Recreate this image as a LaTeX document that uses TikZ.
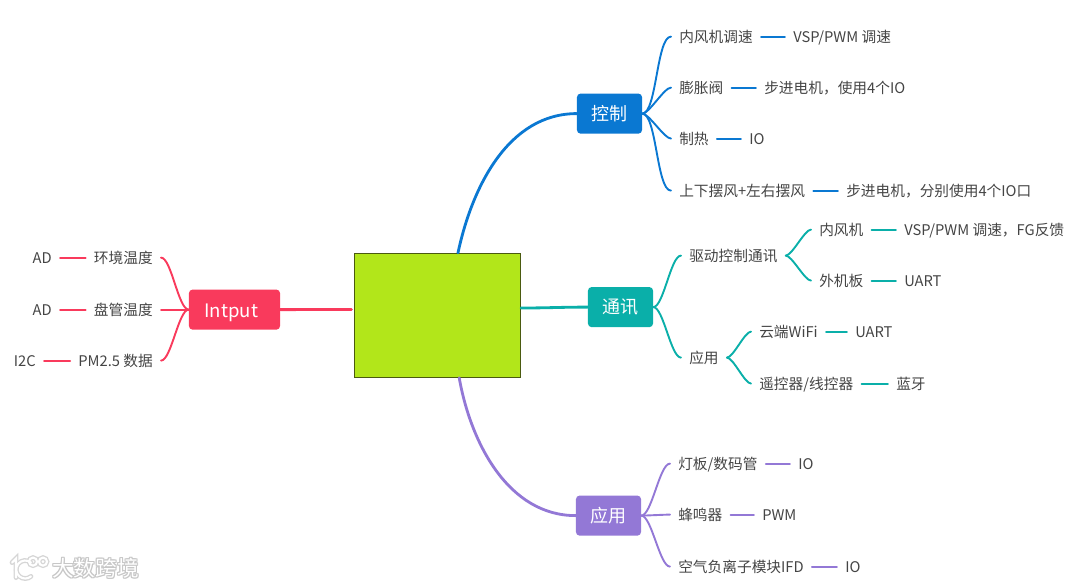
\documentclass[tikz,border=0pt]{standalone}
\usepackage{fontspec}
\setmainfont{Noto Sans CJK SC}
\usetikzlibrary{calc}
\definecolor{coregreen}{HTML}{B2E61A}
\definecolor{coreedge}{HTML}{4A5A10}
\definecolor{inred}{HTML}{F93A5C}
\definecolor{ctrlblue}{HTML}{0A78D2}
\definecolor{commteal}{HTML}{0AAFA9}
\definecolor{apppurple}{HTML}{9378D6}
\definecolor{leafgray}{HTML}{444444}
\tikzset{
  leaf/.style={inner xsep=2mm, inner ysep=1pt, text height=9.4pt, text depth=1pt,
               font=\fontsize{10.45}{12}\selectfont, text=leafgray},
  topic/.style={rounded corners=2.5pt, text=white, minimum height=1cm, inner sep=0pt,
                font=\fontsize{12.8}{15}\selectfont, minimum width=1.625cm},
  trunk/.style={line width=2pt, line cap=round},
  twig/.style={line width=1.35pt, line cap=round},
  fan/.style={out=0,in=180,looseness=0.45},
}
\begin{document}
\begin{tikzpicture}[x=0.025cm,y=-0.025cm]
  \useasboundingbox (0,-0.6) rectangle (1080,586.4);
  % central box and the four topics
  \node[draw=coreedge,fill=coregreen,semithick,minimum width=4.15cm,minimum height=3.1cm,inner sep=0pt] (core) at (437.7,314.7) {};
  \node[topic,fill=inred,minimum width=2.275cm,text width=1.5cm,align=left,text height=12pt,text depth=1pt,font=\fontsize{13.2}{15}\selectfont] (input) at (234.5,309) {Intput};
  \node[topic,fill=ctrlblue] (ctrl) at (609.5,113) {控制};
  \node[topic,fill=commteal] (comm) at (620.5,306.5) {通讯};
  \node[topic,fill=apppurple] (app) at (608.5,515) {应用};
  \draw[trunk,inred,shorten <=2pt] (core.176.5) to[out=180,in=0] (input.east);
  \draw[trunk,ctrlblue] (core.72) to[out=78,in=180,looseness=0.95] (ctrl.west);
  \draw[trunk,commteal] (core.5.5) to[out=0,in=180] (comm.west);
  \draw[trunk,apppurple] (core.-71) to[out=-80,in=180,looseness=0.95] (app.west);
  % input side, written right to left
  \foreach \nm/\y/\lab in {inA/257/环境温度,inB/309/盘管温度,inC/360/PM2.5 数据}{
    \node[leaf,anchor=east] (\nm) at (161,\y) {\lab};
    \draw[twig,inred] (input.west) to[out=180,in=0,looseness=0.45] (\nm.east);
  }
  \node[leaf,anchor=east] (adA) at (60,257) {AD};
  \node[leaf,anchor=east] (adB) at (60,309) {AD};
  \node[leaf,anchor=east] (adC) at (44,360) {I2C};
  \draw[twig,inred] (inA) -- (adA);
  \draw[twig,inred] (inB) -- (adB);
  \draw[twig,inred] (inC) -- (adC);
  % control: first level, then what it is driven with
  \foreach \nm/\y/\lab/\x/\sub in {ctA/36/内风机调速/785/{VSP/PWM 调速},ctB/87/膨胀阀/756/步进电机，使用4个IO,
      ctC/138/制热/741/IO,ctD/190/上下摆风+左右摆风/838/步进电机，分别使用4个IO口}{
    \node[leaf,anchor=west] (\nm) at (671,\y) {\lab};
    \node[leaf,anchor=west] (\nm s) at (\x,\y) {\sub};
    \draw[twig,ctrlblue] (ctrl.east) to[fan] (\nm.west);
    \draw[twig,ctrlblue] (\nm.east) -- (\nm s.west);
  }
  % comms: two levels below the topic
  \node[leaf,anchor=west] (drive) at (681,255) {驱动控制通讯};
  \node[leaf,anchor=west] (cloud) at (681,357) {应用};
  \draw[twig,commteal] (comm.east) to[fan] (drive.west);
  \draw[twig,commteal] (comm.east) to[fan] (cloud.west);
  \foreach \from/\nm/\x/\y/\lab/\xs/\sub in {drive/cmA/811/229/内风机/896/{VSP/PWM 调速，FG反馈},drive/cmB/811/280/外机板/896/UART,
      cloud/cmC/751/331/云端WiFi/847/UART,cloud/cmD/751/383/{遥控器/线控器}/888/蓝牙}{
    \node[leaf,anchor=west] (\nm) at (\x,\y) {\lab};
    \node[leaf,anchor=west] (\nm s) at (\xs,\y) {\sub};
    \draw[twig,commteal] (\from.east) to[fan] (\nm.west);
    \draw[twig,commteal] (\nm.east) -- (\nm s.west);
  }
  % application
  \foreach \nm/\y/\lab/\x/\sub in {apA/463/{灯板/数码管}/790/IO,apB/514/蜂鸣器/754/PWM,apC/566/空气负离子模块IFD/837/IO}{
    \node[leaf,anchor=west] (\nm) at (670,\y) {\lab};
    \node[leaf,anchor=west] (\nm s) at (\x,\y) {\sub};
    \draw[twig,apppurple] (app.east) to[fan] (\nm.west);
    \draw[twig,apppurple] (\nm.east) -- (\nm s.west);
  }
  % watermark, bottom left: soft grey halo first, white on top
  \foreach \ink/\w in {black!16/3.4pt,white/1.5pt}{
    \draw[\ink,line width=\w,line cap=round] (12,562) -- (16,558) -- (16,577);
    \draw[\ink,line width=\w,line cap=round] (31,562) arc (-50:-310:9);
    \draw[\ink,line width=\w] (33,561) circle (4);
    \draw[\ink,line width=\w] (43,561) circle (4);
  }
  \foreach \dx/\dy [count=\i] in {-1/0,1/0,0/-1,0/1,-1/-1,1/1,-1/1,1/-1}{
    \node[font=\fontsize{15.4}{18}\selectfont,text=black!22,anchor=west,inner sep=0pt] (mark\i) at (52+\dx,568+\dy) {大数跨境};
  }
  \node[font=\fontsize{15.4}{18}\selectfont,text=white,anchor=west,inner sep=0pt] (mark) at (52,568) {大数跨境};
\end{tikzpicture}
\end{document}
